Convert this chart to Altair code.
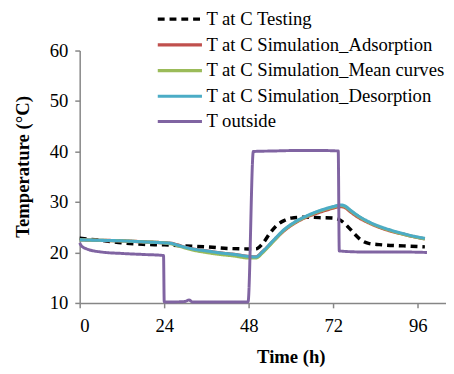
import altair as alt
import pandas as pd

series_names = [
    "T at C Testing",
    "T at C Simulation_Adsorption",
    "T at C Simulation_Mean curves",
    "T at C Simulation_Desorption",
    "T outside",
]
series_colors = ["#000000", "#C0504D", "#9BBB59", "#4BACC6", "#8064A2"]
series_dash = [[7, 5], [1, 0], [1, 0], [1, 0], [1, 0]]
series_width = [3.5, 3, 3, 4, 3]

t_test = [0, 6, 12, 18, 24, 30, 36, 42, 48, 50, 52, 54, 56, 58, 60, 64, 68, 72, 74, 76, 78, 80, 82, 86, 92, 98]
v_test = [22.8, 22.4, 21.9, 21.6, 21.5, 21.3, 21.1, 20.8, 20.7, 20.7, 21.8, 23.8, 25.4, 26.3, 26.8, 27.0, 26.9, 26.8, 26.4, 25.2, 23.7, 22.4, 21.8, 21.5, 21.3, 21.1]

t_sim = [0, 6, 12, 18, 24, 26, 28, 32, 36, 40, 44, 48, 50, 52, 55, 58, 61, 64, 67, 70, 72, 74, 75, 77, 79, 82, 85, 88, 92, 95, 98]
v_ads = [22.5, 22.4, 22.3, 22.1, 21.9, 21.8, 21.4, 20.7, 20.3, 19.9, 19.6, 19.2, 19.1, 20.2, 22.3, 24.3, 25.8, 26.9, 27.7, 28.4, 28.8, 29.1, 29.0, 28.0, 27.0, 25.9, 25.0, 24.3, 23.6, 23.1, 22.7]
v_mean = [22.5, 22.4, 22.3, 22.1, 21.9, 21.7, 21.3, 20.5, 20.0, 19.6, 19.3, 18.9, 18.9, 20.0, 22.2, 24.4, 25.9, 27.0, 27.9, 28.6, 29.0, 29.3, 29.2, 28.2, 27.2, 26.0, 25.1, 24.4, 23.6, 23.1, 22.7]
v_des = [22.5, 22.4, 22.3, 22.1, 21.9, 21.8, 21.4, 20.7, 20.3, 19.9, 19.6, 19.2, 19.1, 20.2, 22.4, 24.5, 26.0, 27.1, 28.0, 28.7, 29.1, 29.4, 29.3, 28.3, 27.3, 26.1, 25.2, 24.5, 23.7, 23.2, 22.8]

t_out = [0, 0.5, 2, 6, 12, 18, 23.8, 24.0, 27, 30, 31, 32, 36, 42, 47.8, 49.3, 55, 62, 68, 73.4, 73.7, 80, 90, 98.6]
v_out = [21.9, 21.3, 20.7, 20.1, 19.8, 19.6, 19.4, 10.2, 10.2, 10.3, 10.6, 10.2, 10.2, 10.2, 10.2, 40.0, 40.1, 40.2, 40.2, 40.1, 20.3, 20.1, 20.1, 20.0]

x_ticks = [0, 24, 48, 72, 96]
y_ticks = [10, 20, 30, 40, 50, 60]

frames = []
for name, ts, vs in [
    (series_names[0], t_test, v_test),
    (series_names[1], t_sim, v_ads),
    (series_names[2], t_sim, v_mean),
    (series_names[3], t_sim, v_des),
    (series_names[4], t_out, v_out),
]:
    frames.append(pd.DataFrame({"series": name, "time": ts, "temp": vs, "idx": range(len(ts))}))
df = pd.concat(frames, ignore_index=True)

FONT = "'Liberation Serif', 'Times New Roman', Times, serif"
FS = 19

legend = alt.Legend(
    title=None,
    orient="none",
    legendX=91,
    legendY=-43,
    symbolType="M-2.5,0H2.5",
    symbolSize=324,
    labelOffset=16,
    rowPadding=5.2,
    labelFont=FONT,
    labelFontSize=FS,
    labelColor="#000000",
    labelLimit=0,
    padding=0,
)

chart = (
    alt.Chart(df)
    .mark_line(interpolate="monotone", strokeCap="butt")
    .encode(
        x=alt.X(
            "time:Q",
            scale=alt.Scale(domain=[0, 104], nice=False, zero=False),
            axis=alt.Axis(values=x_ticks, title="Time (h)", titleX=215, titleY=55,
                          titleBaseline="middle", labelPadding=9),
        ),
        y=alt.Y(
            "temp:Q",
            scale=alt.Scale(domain=[10, 60], nice=False, zero=False),
            axis=alt.Axis(values=y_ticks, title="Temperature (°C)", titleX=-58, titleY=118,
                          titleBaseline="middle", titleAngle=-90),
        ),
        color=alt.Color("series:N", scale=alt.Scale(domain=series_names, range=series_colors), legend=legend),
        strokeDash=alt.StrokeDash("series:N", scale=alt.Scale(domain=series_names, range=series_dash), legend=legend),
        strokeWidth=alt.StrokeWidth("series:N", scale=alt.Scale(domain=series_names, range=series_width), legend=legend),
        order="idx:Q",
    )
    .properties(
        width=373,
        height=257,
        autosize=alt.AutoSizeParams(type="none"),
        padding={"left": 73, "top": 40, "right": 0, "bottom": 66},
    )
    .configure_axis(
        grid=False,
        domainColor="#868686",
        tickColor="#868686",
        domainWidth=1.5,
        tickWidth=1.5,
        tickSize=5,
        labelFont=FONT,
        labelFontSize=FS,
        labelColor="#000000",
        labelPadding=7,
        titleFont=FONT,
        titleFontSize=FS,
        titleFontWeight="bold",
        titleColor="#000000",
    )
    .configure_view(stroke=None)
)

chart.save("out.html", embed_options={"renderer": "svg", "actions": False})
